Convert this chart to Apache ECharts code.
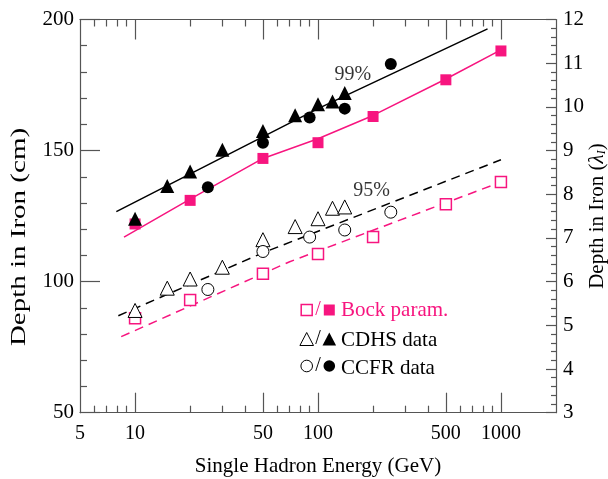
<!DOCTYPE html>
<html>
<head>
<meta charset="utf-8">
<script src="https://cdn.jsdelivr.net/npm/echarts@6/dist/echarts.min.js"></script>
<style>
html,body{margin:0;padding:0;background:#fff;}
#chart{width:608px;height:479px;}
</style>
</head>
<body>
<div id="chart"></div>
<script>
// ---- data ----
const bockE = [10, 20, 50, 100, 200, 500, 1000];
const bock99 = [122, 131, 147, 153, 163, 177, 188];
const bock95 = [86, 93, 103, 110.5, 117, 129.5, 138];

const cdhsE = [10, 15, 20, 30, 50, 75, 100, 120, 140];
const cdhs99 = [124, 136.5, 142, 150.3, 157.5, 163.5, 167.7, 168.7, 172];
const cdhs95 = [89, 97.5, 101, 105.5, 116, 121, 124, 128, 128.5];

const ccfrE = [25, 50, 90, 140, 250];
const ccfr99 = [136, 153, 162.6, 166, 183];
const ccfr95 = [97, 111.5, 117, 119.7, 126.5];

// fitted curves
const fitBock99E = [8.7, 20, 50, 100, 200, 500, 1000];
const fitBock99 = [117, 131.5, 147, 154.5, 163.4, 177.3, 188.4];
const fitData99E = [7.9, 100, 845];
const fitData99 = [126.7, 166, 196.4];
const fitBock95E = [8.4, 70, 1000];
const fitBock95 = [79, 107.6, 138];
const fitData95E = [8.1, 50, 1000];
const fitData95 = [87, 111, 146.5];

// annotation labels
const annoText = ['99%', '95%'];
const annoE = [155, 196];
const annoY = [179, 134.7];

// axis ticks
const xLabelVals = [5, 10, 50, 100, 500, 1000];
const xMajorTicks = [10, 50, 100, 500, 1000];
const xMinorTicks = [6, 7, 8, 9, 20, 30, 40, 60, 70, 80, 90, 200, 300, 400, 600, 700, 800, 900];

const PINK = '#f7157f';
const FONT = 'Liberation Serif';
const AX = '#555';
const FS = 20;

function pairs(xs, ys) { return xs.map((x, i) => [x, ys[i]]); }

const chart = echarts.init(document.getElementById('chart'), null, {renderer: 'canvas'});

function xAx(pos, tickVals, len, withLine, withLabel) {
  return {
    type: 'log', logBase: 10, min: 5, max: 2000, position: pos,
    axisLine: {show: withLine, lineStyle: {color: AX, width: 1.2}},
    axisTick: {show: true, inside: true, length: len, customValues: tickVals, lineStyle: {color: AX, width: 1.2}},
    axisLabel: withLabel ? {show: true, customValues: xLabelVals, formatter: v => String(Math.round(v)),
      color: '#000', fontFamily: FONT, fontSize: FS, margin: 11} : {show: false},
    splitLine: {show: false},
    minorTick: {show: false},
    name: withLabel ? 'Single Hadron Energy (GeV)' : '',
    nameLocation: 'middle', nameGap: 43, nameMoveOverlap: false,
    nameTextStyle: {color: '#000', fontFamily: FONT, fontSize: 21}
  };
}

const option = {
  animation: false,
  backgroundColor: '#fff',
  grid: {left: 80, right: 52, top: 19.5, bottom: 66.3, containLabel: false, outerBoundsMode: 'none'},
  xAxis: [
    xAx('bottom', xMajorTicks, 20, true, true),
    xAx('bottom', xMinorTicks, 7, false, false),
    xAx('top', xMajorTicks, 20, true, false),
    xAx('top', xMinorTicks, 7, false, false)
  ],
  yAxis: [
    {
      type: 'value', min: 50, max: 200, interval: 50, position: 'left',
      axisLine: {show: true, lineStyle: {color: AX, width: 1.2}},
      axisTick: {show: true, inside: true, length: 20, lineStyle: {color: AX, width: 1.2}},
      minorTick: {show: true, splitNumber: 5, length: 7, lineStyle: {color: AX, width: 1.2}},
      axisLabel: {color: '#000', fontFamily: FONT, fontSize: 21, margin: 6},
      splitLine: {show: false}
    },
    {
      type: 'value', min: 3, max: 12, interval: 1, position: 'right',
      axisLine: {show: true, lineStyle: {color: AX, width: 1.2}},
      axisTick: {show: true, inside: true, length: 10, lineStyle: {color: AX, width: 1.2}},
      minorTick: {show: true, splitNumber: 5, length: 5, lineStyle: {color: AX, width: 1.2}},
      axisLabel: {color: '#000', fontFamily: FONT, fontSize: 21, margin: 7},
      splitLine: {show: false},
      name: 'Depth in Iron ({a|λ}{b|I})', nameLocation: 'middle', nameGap: 30, nameRotate: 90, nameMoveOverlap: false,
      nameTextStyle: {color: '#000', fontFamily: FONT, fontSize: 21, lineHeight: 22,
        rich: {
          a: {fontFamily: FONT, fontSize: 21, fontStyle: 'italic', color: '#000', lineHeight: 22, verticalAlign: 'middle'},
          b: {fontFamily: FONT, fontSize: 12, fontStyle: 'italic', color: '#000', lineHeight: 12, verticalAlign: 'bottom'}
        }}
    }
  ],
  series: [
    {type: 'line', data: pairs(fitBock99E, fitBock99), symbol: 'none', lineStyle: {color: PINK, width: 1.5}, z: 2},
    {type: 'line', data: pairs(fitData99E, fitData99), symbol: 'none', lineStyle: {color: '#000', width: 1.5}, z: 2},
    {type: 'line', data: pairs(fitBock95E, fitBock95), symbol: 'none', lineStyle: {color: PINK, width: 1.5, type: [9, 6]}, z: 2},
    {type: 'line', data: pairs(fitData95E, fitData95), symbol: 'none', lineStyle: {color: '#000', width: 1.5, type: [9, 6]}, z: 2},

    {type: 'scatter', data: pairs(bockE, bock99), symbol: 'rect', symbolSize: 11, itemStyle: {color: PINK, opacity: 1}, z: 5},
    {type: 'scatter', data: pairs(bockE, bock95), symbol: 'rect', symbolSize: 11, itemStyle: {color: '#fff', borderColor: PINK, borderWidth: 1.5, opacity: 1}, z: 5},
    {type: 'scatter', data: pairs(cdhsE, cdhs99), symbol: 'triangle', symbolSize: 14, itemStyle: {color: '#000', opacity: 1}, z: 5},
    {type: 'scatter', data: pairs(cdhsE, cdhs95), symbol: 'triangle', symbolSize: 14, itemStyle: {color: '#fff', borderColor: '#000', borderWidth: 1, opacity: 1}, z: 5},
    {type: 'scatter', data: pairs(ccfrE, ccfr99), symbol: 'circle', symbolSize: 12, itemStyle: {color: '#000', opacity: 1}, z: 5},
    {type: 'scatter', data: pairs(ccfrE, ccfr95), symbol: 'circle', symbolSize: 12, itemStyle: {color: '#fff', borderColor: '#000', borderWidth: 1, opacity: 1}, z: 5},

    {type: 'scatter', data: annoE.map((e, i) => ({value: [e, annoY[i]], name: annoText[i]})), symbolSize: 0, z: 6,
      label: {show: true, position: 'inside', formatter: p => p.name, color: '#000', fontFamily: FONT, fontSize: 20}}
  ],
  graphic: [
    // left axis title (stretched along its length as in the reference)
    {type: 'text', x: 20, y: 237, rotation: Math.PI / 2, scaleX: 1.45, scaleY: 1,
      style: {text: 'Depth in Iron (cm)', fill: '#000', font: '20px "Liberation Serif"', textAlign: 'center', textVerticalAlign: 'middle'}},

    {type: 'rect', shape: {x: 301.2, y: 304.5, width: 11, height: 11}, style: {fill: '#fff', stroke: PINK, lineWidth: 1.5}},
    {type: 'text', style: {x: 318, y: 310, text: '/', fill: PINK, font: '20px "Liberation Serif"', textAlign: 'center', textVerticalAlign: 'middle'}},
    {type: 'rect', shape: {x: 323.8, y: 304.5, width: 11, height: 11}, style: {fill: PINK}},
    {type: 'text', style: {x: 341, y: 310, text: 'Bock param.', fill: PINK, font: '21px "Liberation Serif"', textVerticalAlign: 'middle'}},

    {type: 'polygon', shape: {points: [[306.7, 332.5], [313.5, 345.5], [299.9, 345.5]]}, style: {fill: '#fff', stroke: '#000', lineWidth: 1}},
    {type: 'text', style: {x: 318, y: 339, text: '/', fill: '#000', font: '20px "Liberation Serif"', textAlign: 'center', textVerticalAlign: 'middle'}},
    {type: 'polygon', shape: {points: [[329.3, 332.5], [336.1, 345.5], [322.5, 345.5]]}, style: {fill: '#000'}},
    {type: 'text', style: {x: 341, y: 340, text: 'CDHS data', fill: '#000', font: '21px "Liberation Serif"', textVerticalAlign: 'middle'}},

    {type: 'circle', shape: {cx: 306.7, cy: 366, r: 5.8}, style: {fill: '#fff', stroke: '#000', lineWidth: 1}},
    {type: 'text', style: {x: 318, y: 366, text: '/', fill: '#000', font: '20px "Liberation Serif"', textAlign: 'center', textVerticalAlign: 'middle'}},
    {type: 'circle', shape: {cx: 329.3, cy: 366, r: 5.8}, style: {fill: '#000'}},
    {type: 'text', style: {x: 341, y: 368, text: 'CCFR data', fill: '#000', font: '21px "Liberation Serif"', textVerticalAlign: 'middle'}}
  ]
};
chart.setOption(option);
</script>
</body>
</html>
